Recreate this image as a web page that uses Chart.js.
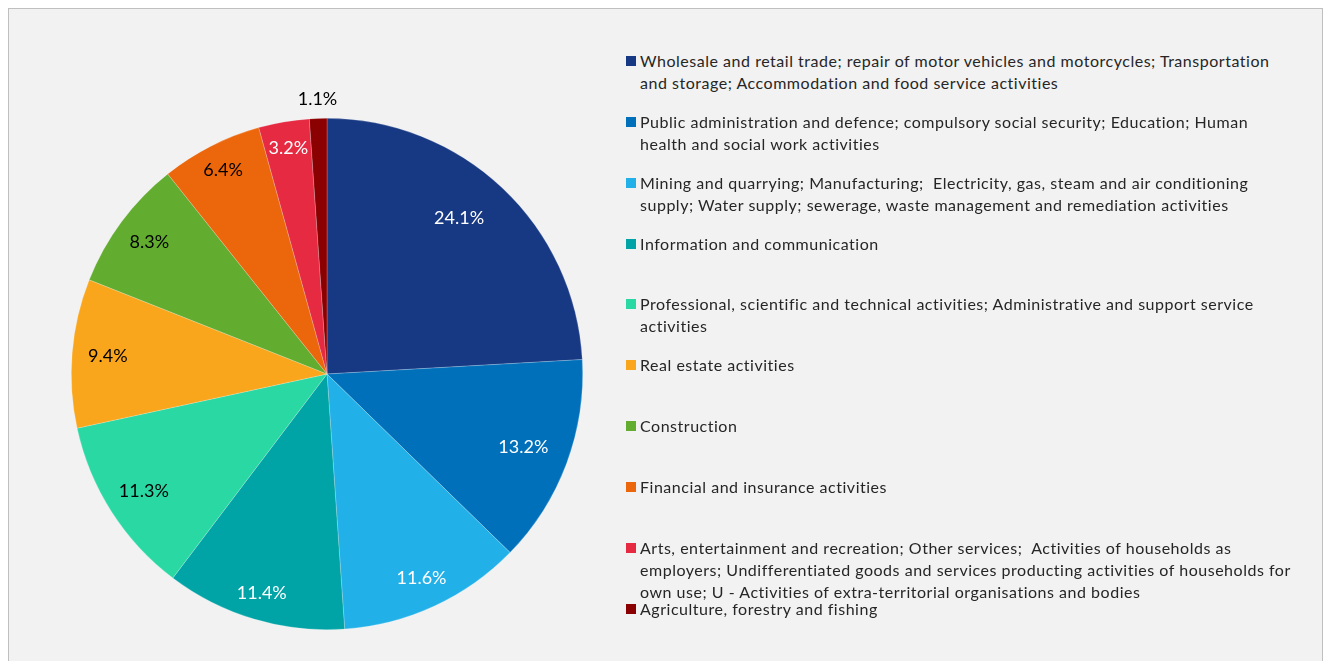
<!DOCTYPE html>
<html>
<head>
<meta charset="utf-8">
<script src="https://cdn.jsdelivr.net/npm/chart.js@4.4.1/dist/chart.umd.min.js"></script>
<style>
  html, body { margin: 0; padding: 0; background: #ffffff; width: 1326px; height: 661px; overflow: hidden; }
  #frame { position: absolute; left: 8px; top: 8px; width: 1313px; height: 670px; border: 1px solid #bfbfbf; background: #f2f2f2; }
  #wrap { position: absolute; left: 27px; top: 74px; width: 600px; height: 600px; }
  #legend { position: absolute; left: 0; top: 0; font-family: Lato, "Open Sans", sans-serif; font-size: 16px; letter-spacing: 0.52px; color: #262626; }
  .item { position: absolute; left: 626px; white-space: pre; }
  .sw { position: absolute; left: 0; top: 6px; width: 10px; height: 10px; }
  .txt { position: absolute; left: 14px; top: 0; line-height: 22px; white-space: pre; }
</style>
</head>
<body>
<div id="frame"></div>
<div id="wrap"><canvas id="c" width="600" height="600"></canvas></div>
<div id="legend"></div>
<script>
// ---- data ----
const categories = [
  ["Wholesale and retail trade; repair of motor vehicles and motorcycles; Transportation", "and storage; Accommodation and food service activities"],
  ["Public administration and defence; compulsory social security; Education; Human", "health and social work activities"],
  ["Mining and quarrying; Manufacturing;  Electricity, gas, steam and air conditioning", "supply; Water supply; sewerage, waste management and remediation activities"],
  ["Information and communication"],
  ["Professional, scientific and technical activities; Administrative and support service", "activities"],
  ["Real estate activities"],
  ["Construction"],
  ["Financial and insurance activities"],
  ["Arts, entertainment and recreation; Other services;  Activities of households as", "employers; Undifferentiated goods and services producting activities of households for", "own use; U - Activities of extra-territorial organisations and bodies"],
  ["Agriculture, forestry and fishing"]
];
const values = [24.1, 13.2, 11.6, 11.4, 11.3, 9.4, 8.3, 6.4, 3.2, 1.1];

// ---- styles ----
const sliceColors = ["#173883", "#0070BB", "#22B0E8", "#00A4A6", "#2AD8A4", "#F9A61C", "#62AD2F", "#EC660C", "#E52A42", "#8B0000"];
const labelColors = ["#ffffff", "#ffffff", "#ffffff", "#ffffff", "#000000", "#000000", "#000000", "#000000", "#ffffff", "#000000"];
const labelRadiusFactor = [0.80, 0.82, 0.88, 0.895, 0.85, 0.86, 0.865, 0.895, 0.895, 1.075];
const labelAngleShift = [-0.055, 0, 0, 0, 0, 0, 0, 0, 0, 0];
const legendTops = [50, 111, 172, 233, 293, 354, 415, 476, 537, 598];

const valueLabels = {
  id: 'valueLabels',
  afterDatasetsDraw(chart) {
    const ctx = chart.ctx;
    const meta = chart.getDatasetMeta(0);
    ctx.save();
    ctx.font = '18px Lato, "Open Sans", sans-serif';
    ctx.textAlign = 'center';
    ctx.textBaseline = 'middle';
    meta.data.forEach((arc, i) => {
      const p = arc.getProps(['x', 'y', 'startAngle', 'endAngle', 'outerRadius'], true);
      const mid = (p.startAngle + p.endAngle) / 2 + labelAngleShift[i];
      const r = p.outerRadius * labelRadiusFactor[i];
      ctx.fillStyle = labelColors[i];
      ctx.fillText(chart.data.datasets[0].data[i].toFixed(1) + '%', p.x + Math.cos(mid) * r, p.y + Math.sin(mid) * r);
    });
    ctx.restore();
  }
};

const chart = new Chart(document.getElementById('c'), {
  type: 'pie',
  data: {
    labels: categories,
    datasets: [{ data: values, backgroundColor: sliceColors, borderWidth: 0.6, borderColor: 'rgba(255,255,255,0.35)' }]
  },
  options: {
    responsive: false,
    animation: false,
    layout: { padding: 44 },
    plugins: { legend: { display: false }, tooltip: { enabled: false } }
  },
  plugins: [valueLabels]
});

// HTML legend from chart data
const legend = document.getElementById('legend');
chart.data.labels.forEach((lines, i) => {
  const item = document.createElement('div');
  item.className = 'item';
  item.style.top = legendTops[i] + 'px';
  const sw = document.createElement('div');
  sw.className = 'sw';
  sw.style.background = chart.data.datasets[0].backgroundColor[i];
  const txt = document.createElement('div');
  txt.className = 'txt';
  txt.textContent = lines.join('\n');
  item.appendChild(sw);
  item.appendChild(txt);
  legend.appendChild(item);
});
</script>
</body>
</html>
